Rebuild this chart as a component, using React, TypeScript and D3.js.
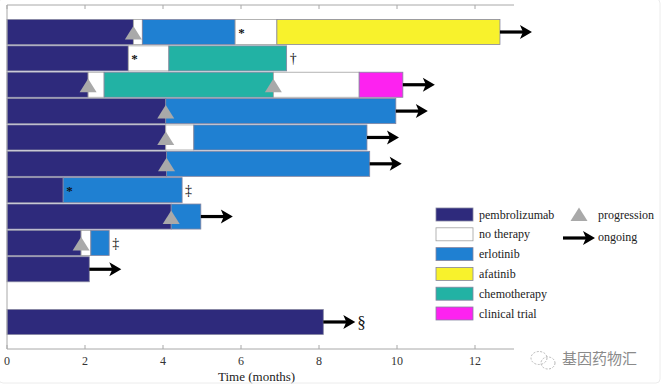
import React from "react";
import * as d3 from "d3";

const width = 663;
const height = 388;

const treatments = [
  "pembrolizumab",
  "no therapy",
  "erlotinib",
  "afatinib",
  "chemotherapy",
  "clinical trial",
];
const treatmentColors = ["#2e2a7c", "#ffffff", "#1f80d2", "#f8f22c", "#22b2a4", "#fd22f0"];

// each patient: list of [treatment index, end month], segments run back to back from 0
const patientSegments: [number, number][][] = [
  [[0, 3.24], [1, 3.47], [2, 5.85], [1, 6.92], [3, 12.64]],
  [[0, 3.11], [1, 4.15], [4, 7.17]],
  [[0, 2.08], [1, 2.49], [4, 6.83], [1, 9.03], [5, 10.15]],
  [[0, 4.07], [2, 9.97]],
  [[0, 4.07], [1, 4.79], [2, 9.23]],
  [[0, 4.09], [2, 9.3]],
  [[0, 1.44], [2, 4.49]],
  [[0, 4.21], [2, 4.97]],
  [[0, 1.9], [1, 2.15], [2, 2.62]],
  [[0, 2.11]],
  [],
  [[0, 8.11]],
];

// [row, month]
const progressionEvents: [number, number][] = [
  [0, 3.24],
  [2, 2.08],
  [2, 6.83],
  [3, 4.07],
  [4, 4.07],
  [5, 4.09],
  [7, 4.21],
  [8, 1.9],
];

const ongoingRows = [0, 2, 3, 4, 5, 7, 9, 11];

// [row, month, symbol]
const footnotes: [number, number, string][] = [
  [0, 5.85, "*"],
  [1, 3.11, "*"],
  [1, 7.17, "\u2020"],
  [6, 1.44, "*"],
  [6, 4.49, "\u2021"],
  [8, 2.62, "\u2021"],
  [11, 8.11, "\u00a7"],
];

const xTicks = [0, 2, 4, 6, 8, 10, 12];

const plotLeft = 7;
const plotRight = 514;
const plotTop = 5;
const plotBottom = 349;
const arrowLen = 32;
const serif = { fontFamily: "'Liberation Serif', 'Times New Roman', 'DejaVu Serif', serif" };

const Arrow = ({ x, y }: { x: number; y: number }) => (
  <g>
    <line x1={x} x2={x + arrowLen - 8} y1={y} y2={y} stroke="#000" strokeWidth={3.2} />
    <path
      d={`M${x + arrowLen - 12},${y - 7} L${x + arrowLen},${y} L${x + arrowLen - 12},${y + 7} L${x + arrowLen - 9},${y} Z`}
      fill="#000"
    />
  </g>
);

const Progression = ({ x, y }: { x: number; y: number }) => (
  <path d={`M${x},${y - 7.5} L${x + 8.5},${y + 6} L${x - 8.5},${y + 6} Z`} fill="#a9a9a9" />
);

export default function App() {
  const x = d3.scaleLinear().domain([0, 13]).range([plotLeft, plotRight]);
  const y = d3
    .scaleBand<number>()
    .domain(d3.range(patientSegments.length))
    .range([plotTop, plotBottom])
    .paddingInner(0.05)
    .paddingOuter(0.55);
  const bw = y.bandwidth();
  const yMid = (r: number) => (y(r) as number) + bw / 2;
  const rowEnd = (r: number) => {
    const segs = patientSegments[r];
    return segs.length ? segs[segs.length - 1][1] : 0;
  };

  return (
    <svg
      width={width}
      height={height}
      style={{ position: "absolute", left: 0, top: 0, background: "#fff" }}
    >
      {/* bars */}
      {patientSegments.map((segs, r) =>
        segs.map((s, i) => {
          const start = i === 0 ? 0 : segs[i - 1][1];
          return (
            <rect
              key={`${r}-${i}`}
              x={x(start)}
              y={y(r)}
              width={x(s[1]) - x(start)}
              height={bw}
              fill={treatmentColors[s[0]]}
              stroke={s[0] === 1 ? "#a0a0a0" : "#8585a0"}
              strokeWidth={0.8}
            />
          );
        })
      )}

      {/* progression */}
      {progressionEvents.map(([r, t], i) => (
        <Progression key={i} x={x(t)} y={yMid(r) + 1.5} />
      ))}

      {/* ongoing arrows */}
      {ongoingRows.map((r) => (
        <Arrow key={r} x={x(rowEnd(r))} y={yMid(r)} />
      ))}

      {/* footnote symbols */}
      {footnotes.map(([r, t, sym], i) => {
        const afterArrow = ongoingRows.includes(r) && t === rowEnd(r);
        const xx = x(t) + (afterArrow ? arrowLen + 2 : 3);
        const big = sym === "\u00a7";
        return (
          <text
            key={i}
            x={xx}
            y={yMid(r) + (big ? 6 : 5)}
            fontSize={big ? 17 : sym === "*" ? 13 : 14}
            fontWeight={sym === "*" ? "bold" : "normal"}
            fill="#111"
            style={serif}
          >
            {sym}
          </text>
        );
      })}

      {/* axes */}
      <line x1={plotLeft} x2={plotLeft} y1={plotTop} y2={plotBottom} stroke="#a8a8a8" />
      <line x1={plotLeft} x2={plotRight} y1={plotTop} y2={plotTop} stroke="#a8a8a8" />
      <line x1={plotLeft} x2={plotRight} y1={plotBottom} y2={plotBottom} stroke="#a8a8a8" />
      {xTicks.map((t) => (
        <g key={t}>
          <line x1={x(t)} x2={x(t)} y1={plotTop} y2={plotTop + 4} stroke="#a8a8a8" />
          <line x1={x(t)} x2={x(t)} y1={plotBottom} y2={plotBottom - 4} stroke="#a8a8a8" />
          <text x={x(t)} y={plotBottom + 16} textAnchor="middle" fontSize={12} fill="#333" style={serif}>
            {t}
          </text>
        </g>
      ))}
      <text x={x(6.4)} y={plotBottom + 32} textAnchor="middle" fontSize={13} fill="#222" style={serif}>
        Time (months)
      </text>

      {/* legend */}
      <g>
        {treatments.map((name, i) => (
          <g key={name} transform={`translate(436, ${208 + i * 19.8})`}>
            <rect
              width={37}
              height={13}
              fill={treatmentColors[i]}
              stroke={i === 1 ? "#a0a0a0" : "#8585a0"}
              strokeWidth={0.8}
            />
            <text x={43} y={10.5} fontSize={12} fill="#222" style={serif}>
              {name}
            </text>
          </g>
        ))}
        <Progression x={579} y={215} />
        <text x={598} y={219} fontSize={12} fill="#222" style={serif}>
          progression
        </text>
        <Arrow x={563} y={238} />
        <text x={598} y={241} fontSize={12} fill="#222" style={serif}>
          ongoing
        </text>
      </g>

      {/* watermark */}
      <g stroke="#b8b8b8" fill="none" strokeDasharray="2,1.5">
        <ellipse cx={539} cy={358} rx={8} ry={6.5} />
        <ellipse cx={548} cy={363} rx={7} ry={6} />
      </g>
      <text x={562} y={364} fontSize={15} fill="#8a8a8a" style={{ fontFamily: "'Noto Sans CJK SC', sans-serif" }}>
        基因药物汇
      </text>
      <rect x={-1} y={-1} width={661} height={384} rx={4} fill="none" stroke="#ececec" />
    </svg>
  );
}
